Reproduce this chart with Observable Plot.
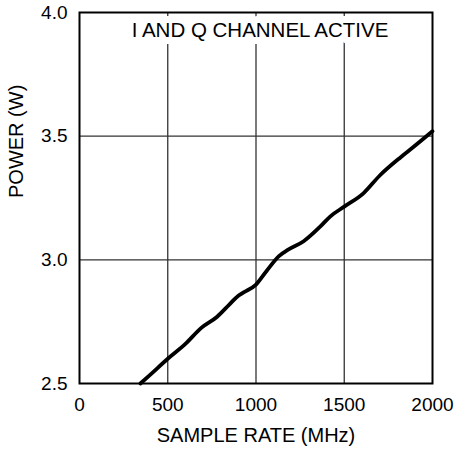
<!DOCTYPE html>
<html>
<head>
<meta charset="utf-8">
<script src="https://cdn.jsdelivr.net/npm/d3@7"></script>
<script src="https://cdn.jsdelivr.net/npm/@observablehq/plot@0.6"></script>
<style>
  html, body { margin: 0; padding: 0; background: white; }
</style>
</head>
<body>
<div id="chart"></div>
<script>
const sampleRate = [345, 400, 500, 600, 690, 780, 850, 900, 935, 1000, 1060, 1130, 1180, 1270, 1365, 1420, 1500, 1610, 1700, 1820, 1890, 2000];
const power      = [2.50, 2.535, 2.60, 2.66, 2.725, 2.77, 2.82, 2.855, 2.87, 2.90, 2.955, 3.015, 3.04, 3.075, 3.135, 3.175, 3.215, 3.27, 3.34, 3.415, 3.455, 3.52];
const xTicks = [0, 500, 1000, 1500, 2000];
const yTicks = [2.5, 3.0, 3.5, 4.0];
const xGrid = [500, 1000, 1500];
const yGrid = [3.0, 3.5];
const title = ["I AND Q CHANNEL ACTIVE"];
const xLabel = ["SAMPLE RATE (MHz)"];
const yLabel = ["POWER (W)"];

const data = sampleRate.map((x, i) => ({x, y: power[i]}));

const chart = Plot.plot({
  width: 456,
  height: 449,
  marginLeft: 79,
  marginRight: 24,
  marginTop: 12,
  marginBottom: 66,
  style: {fontFamily: "'Liberation Sans', Arial, sans-serif", background: "white", color: "black"},
  x: {domain: [0, 2000]},
  y: {domain: [2.5, 4.0]},
  marks: [
    Plot.ruleX(xGrid, {stroke: "#333", strokeWidth: 1.3}),
    Plot.ruleY(yGrid, {stroke: "#333", strokeWidth: 1.3}),
    Plot.text(title, {frameAnchor: "top", lineAnchor: "top", dy: 10, dx: 4, fontSize: 20.5, fill: "black", stroke: "white", strokeWidth: 14}),
    Plot.line(data, {x: "x", y: "y", stroke: "black", strokeWidth: 3.8, curve: "monotone-x"}),
    Plot.frame({stroke: "black", strokeWidth: 2}),
    Plot.axisX({ticks: xTicks, tickSize: 0, tickPadding: 14, fontSize: 19, label: null, tickFormat: d => String(d)}),
    Plot.axisY({ticks: yTicks, tickSize: 0, tickPadding: 12, fontSize: 19, label: null, tickFormat: d3.format(".1f")}),
    Plot.text(xLabel, {frameAnchor: "bottom", lineAnchor: "top", dy: 44, fontSize: 20, fill: "black"}),
    Plot.text(yLabel, {frameAnchor: "left", rotate: -90, dx: -63, fontSize: 20, fill: "black"})
  ]
});
document.getElementById("chart").appendChild(chart);
</script>
</body>
</html>
